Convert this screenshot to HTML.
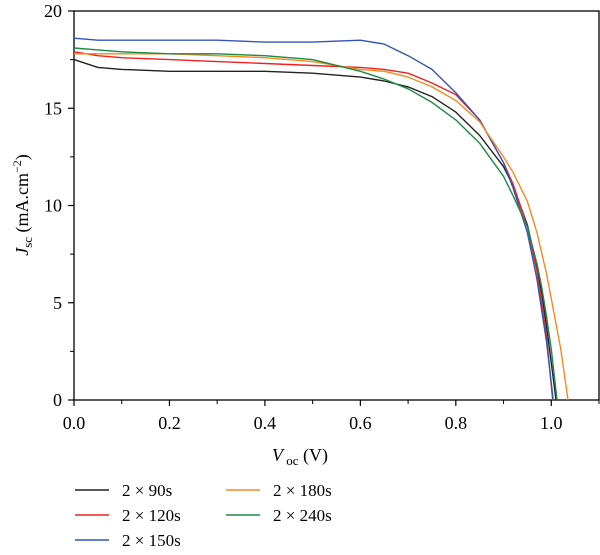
<!DOCTYPE html>
<html><head><meta charset="utf-8"><style>
body{margin:0;background:#fff}
svg{display:block;font-family:"Liberation Serif",serif}
</style></head><body>
<svg id="chart" width="600" height="555" viewBox="0 0 600 555" xmlns="http://www.w3.org/2000/svg">
<g id="axes"></g><g id="series"></g><g id="legend"></g>
</svg>
<script>
const xTicks=[0,0.2,0.4,0.6,0.8,1.0];
const xTickLabels=["0.0","0.2","0.4","0.6","0.8","1.0"];
const yTicks=[0,5,10,15,20];
const yTickLabels=["0","5","10","15","20"];
const names=["2 × 90s","2 × 120s","2 × 150s","2 × 180s","2 × 240s"];
const colors=["#222222","#ee2222","#3355bb","#f58a1f","#1a8a44"];
const v90=[0,0.05,0.1,0.2,0.3,0.4,0.5,0.6,0.65,0.7,0.75,0.8,0.85,0.9,0.92,0.95,0.97,0.98,0.99,1.0,1.010];
const j90=[17.5,17.1,17.0,16.9,16.9,16.9,16.8,16.6,16.4,16.1,15.6,14.8,13.6,12.0,11.0,9.0,6.8,5.5,3.8,1.9,0];
const v120=[0,0.05,0.1,0.2,0.3,0.4,0.5,0.6,0.65,0.7,0.75,0.8,0.85,0.9,0.92,0.95,0.97,0.98,0.99,1.003];
const j120=[17.9,17.7,17.6,17.5,17.4,17.3,17.2,17.1,17.0,16.8,16.3,15.7,14.4,12.2,11.1,8.9,6.6,5.0,3.3,0];
const v150=[0,0.05,0.1,0.2,0.3,0.4,0.5,0.6,0.65,0.7,0.75,0.8,0.85,0.9,0.92,0.95,0.97,0.98,0.99,1.004];
const j150=[18.6,18.5,18.5,18.5,18.5,18.4,18.4,18.5,18.3,17.7,17.0,15.8,14.4,12.2,10.9,8.6,6.2,4.6,3.0,0];
const v180=[0,0.05,0.1,0.2,0.3,0.4,0.5,0.6,0.65,0.7,0.75,0.8,0.85,0.9,0.92,0.95,0.97,0.99,1.0,1.02,1.035];
const j180=[17.8,17.8,17.8,17.8,17.7,17.6,17.4,17.0,16.9,16.6,16.1,15.4,14.3,12.5,11.7,10.2,8.6,6.5,5.2,2.6,0];
const v240=[0,0.05,0.1,0.2,0.3,0.4,0.5,0.6,0.65,0.7,0.75,0.8,0.85,0.9,0.92,0.95,0.97,0.98,0.99,1.0,1.012];
const j240=[18.1,18.0,17.9,17.8,17.8,17.7,17.5,16.9,16.5,16.0,15.3,14.4,13.2,11.5,10.5,8.9,7.0,5.8,4.3,2.6,0];
const vs=[v90,v120,v150,v180,v240], js=[j90,j120,j150,j180,j240];

const NS="http://www.w3.org/2000/svg";
const X0=74,X1=599,Y0=400,Y1=11,XMAX=1.1,YMAX=20;
const sx=v=>X0+v/XMAX*(X1-X0);
const sy=j=>Y0-j/YMAX*(Y0-Y1);
function mk(tag,attrs,parent,txt){const e=document.createElementNS(NS,tag);for(const k in attrs)e.setAttribute(k,attrs[k]);if(txt!==undefined)e.textContent=txt;parent.appendChild(e);return e;}
const axes=document.getElementById('axes');
const frame=mk('rect',{x:X0,y:Y1,width:X1-X0,height:Y0-Y1,fill:'none',stroke:'#000','stroke-width':1.3},axes);


xTicks.forEach((t,i)=>{
  const l=mk('line',{x1:sx(t),x2:sx(t),y1:Y0,y2:Y0+6,stroke:'#000','stroke-width':1.2},axes);
  
  
  const m=mk('line',{x1:sx(t+0.1),x2:sx(t+0.1),y1:Y0,y2:Y0+4,stroke:'#000','stroke-width':1},axes);
  
  
  const tx=mk('text',{x:sx(t),y:Y0+29,'text-anchor':'middle','font-size':18},axes,xTickLabels[i]);
  
  
});
yTicks.forEach((t,i)=>{
  const l=mk('line',{x1:X0-6,x2:X0,y1:sy(t),y2:sy(t),stroke:'#000','stroke-width':1.2},axes);
  
  
  if(t<20){const m=mk('line',{x1:X0-4,x2:X0,y1:sy(t+2.5),y2:sy(t+2.5),stroke:'#000','stroke-width':1},axes);
  
  }
  const tx=mk('text',{x:X0-12,y:sy(t)+6,'text-anchor':'end','font-size':18},axes,yTickLabels[i]);
  
  
});
const xl=mk('text',{x:300,y:461,'text-anchor':'middle','font-size':18},axes);


xl.innerHTML='<tspan font-style="italic">V</tspan><tspan font-size="13" dy="4"> oc</tspan><tspan dy="-4"> (V)</tspan>';
const yl=mk('text',{x:0,y:0,'text-anchor':'middle','font-size':18,transform:'translate(28,205) rotate(-90)'},axes);


yl.innerHTML='<tspan font-style="italic">J</tspan><tspan font-size="13" dy="4">sc</tspan><tspan dy="-4"> (mA.cm</tspan><tspan font-size="12" dy="-7">−2</tspan><tspan dy="7">)</tspan>';
const ser=document.getElementById('series');
vs.forEach((v,k)=>{
  const pts=v.map((x,i)=>sx(x).toFixed(1)+','+sy(js[k][i]).toFixed(1)).join(' ');
  const p=mk('polyline',{points:pts,fill:'none',stroke:colors[k],'stroke-width':1.4,'stroke-linejoin':'round'},ser);
  
  
});
const leg=document.getElementById('legend');
const lpos=[[75,490],[75,515],[75,540],[226,490],[226,515]];
names.forEach((n,k)=>{
  const [lx,ly]=lpos[k];
  const l=mk('line',{x1:lx,x2:lx+34,y1:ly,y2:ly,stroke:colors[k],'stroke-width':1.5},leg);
  
  
  const t=mk('text',{x:lx+47,y:ly+6,'font-size':17},leg,n);
  
  
});
</script>
</body></html>
